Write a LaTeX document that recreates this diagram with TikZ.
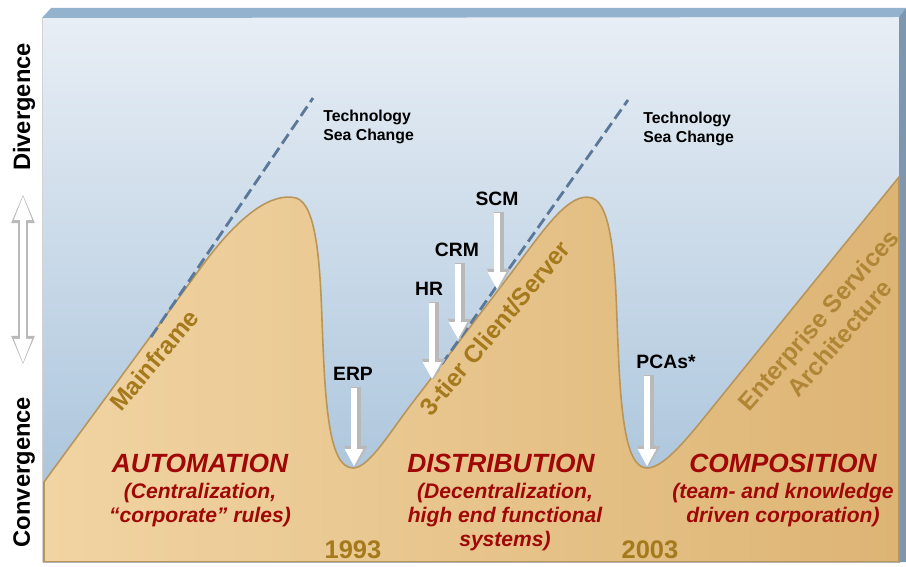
\documentclass[tikz,border=0pt]{standalone}
\usepackage{fontspec}
\setmainfont{Liberation Sans}
\usetikzlibrary{arrows.meta,calc}
\definecolor{skytop}{HTML}{E8EEF5}
\definecolor{skybot}{HTML}{A2BFD8}
\definecolor{sandL}{HTML}{F1D4A3}
\definecolor{sandR}{HTML}{DDB474}
\definecolor{hillline}{HTML}{B8955A}
\definecolor{framecol}{HTML}{93B2CE}
\definecolor{dashcol}{HTML}{5B7898}
\definecolor{brownA}{HTML}{A47A1C}
\definecolor{brownB}{HTML}{B08636}
\definecolor{darkred}{HTML}{A00808}
\begin{document}
\begin{tikzpicture}[x=0.02cm,y=-0.02cm,
  lab/.style={font=\fontsize{11}{13}\selectfont\bfseries, inner sep=1.5pt},
  tech/.style={font=\fontsize{9}{10.8}\selectfont\bfseries, align=left, inner sep=0pt, anchor=north west},
  axislab/.style={font=\fontsize{13.5}{16}\selectfont\bfseries, rotate=90},
  slopetxt/.style={font=\fontsize{14}{16}\selectfont\bfseries, text=brownA, rotate=50, align=center},
  yeartxt/.style={font=\fontsize{14.5}{17}\selectfont\bfseries, text=brownA},
  eratxt/.style={font=\fontsize{15}{18}\selectfont\bfseries\itshape, text=darkred},
  erasub/.style={font=\fontsize{12}{13.6}\selectfont\bfseries\itshape, text=darkred, align=center},
  sea/.style={draw=dashcol, line width=1.6pt, dash pattern=on 6.5pt off 3pt},
  arrbg/.style={draw=gray!55, line width=5.6pt, shorten <=2pt, -{Triangle[width=13.5pt,length=11.5pt,line width=0pt]}},
  arrfg/.style={draw=white, line width=3.6pt, shorten <=2.6pt, -{Triangle[width=10.6pt,length=9.6pt,line width=0pt]}},
  vbg/.style={draw=gray!55, line width=5.2pt, {Triangle[width=13.5pt,length=16pt,line width=0pt]}-{Triangle[width=13.5pt,length=16pt,line width=0pt]}},
  vfg/.style={draw=white, line width=3.2pt, shorten <=0.8pt, shorten >=0.8pt, {Triangle[width=10.5pt,length=13.5pt,line width=0pt]}-{Triangle[width=10.5pt,length=13.5pt,line width=0pt]}}
]
\useasboundingbox (0,0) rectangle (906,567);
% frame and sky
\shade[top color=skytop, bottom color=skybot] (43,17) rectangle (899,562);
\fill[framecol] (42,18) -- (51,8) -- (906,8) -- (899,17) -- cycle;
\fill[framecol!85!black] (899,17) -- (906,8) -- (906,562) -- (899,562) -- cycle;
\draw[gray!35, line width=1pt] (42.5,18) -- (42.5,562);
% hills
\shadedraw[left color=sandL, right color=sandR, draw=hillline, line width=0.9pt]
  (44,482) -- (205,262)
  .. controls (240,215) and (272,192) .. (296,198)
  .. controls (316,204) and (320,260) .. (322,320)
  .. controls (325,400) and (328,468) .. (353,468)
  .. controls (370,468) and (392,428) .. (420,393)
  -- (515,268)
  .. controls (545,228) and (570,191) .. (592,198)
  .. controls (611,204) and (615,260) .. (617,320)
  .. controls (620,400) and (623,468) .. (647,468)
  .. controls (665,468) and (690,435) .. (720,398)
  -- (899,177) -- (899,562) -- (44,562) -- cycle;
\draw[gray!60, line width=1pt] (43,562.5) -- (899,562.5);
% technology sea change
\coordinate (d1s) at (151,337);
\coordinate (d1e) at (313,98);
\coordinate (d2s) at (432,378);
\coordinate (d2e) at (628,100);
\draw[sea] (d1s) -- (d1e);
\draw[sea] (d2s) -- (d2e);
\node[tech] (tc1) at (323,110) {Technology\\Sea Change};
\node[tech] (tc2) at (643,112) {Technology\\Sea Change};
% axis
\node[axislab] (div) at (24,107) {Divergence};
\node[axislab] (conv) at (24,472) {Convergence};
\coordinate (vtop) at (23,195);
\coordinate (vbot) at (23,364);
\draw[vbg] (vtop) -- (vbot);
\draw[vfg] (vtop) -- (vbot);
% slope labels
\node[slopetxt] (mf) at (154,360) {Mainframe};
\node[slopetxt] (cs) at (495,328) {3-tier Client/Server};
\node[slopetxt, text=brownB, rotate=-1] (esa) at (829,329) {Enterprise Services\\Architecture};
% labelled arrows
\node[lab] (erp) at (353,374) {ERP};
\node[lab] (hr) at (429,289) {HR};
\node[lab] (crm) at (457,250) {CRM};
\node[lab] (scm) at (497,199) {SCM};
\node[lab] (pca) at (666,362) {PCAs*};
\coordinate (erpt) at (354,466);
\coordinate (hrt) at (432,379);
\coordinate (crmt) at (458,339);
\coordinate (scmt) at (497,289);
\coordinate (pcat) at (647,466);
\foreach \a/\t in {erp/erpt, hr/hrt, crm/crmt, scm/scmt, pca/pcat}{
  \draw[arrbg] ([xshift=1pt]\a.south -| \t) -- ([xshift=1pt]\t);
  \draw[arrfg] (\a.south -| \t) -- (\t);
}
% eras
\node[eratxt] (auto) at (200,463) {AUTOMATION};
\node[erasub] (autos) at (200,505) {(Centralization,\\“corporate” rules)};
\node[eratxt] (dist) at (501,463) {DISTRIBUTION};
\node[erasub] (dists) at (505,517) {(Decentralization,\\high end functional\\systems)};
\node[eratxt] (comp) at (783,463) {COMPOSITION};
\node[erasub] (comps) at (783,505) {(team- and knowledge\\driven corporation)};
% years
\node[yeartxt] (y93) at (353,550) {1993};
\node[yeartxt] (y03) at (650,550) {2003};
\end{tikzpicture}
\end{document}
